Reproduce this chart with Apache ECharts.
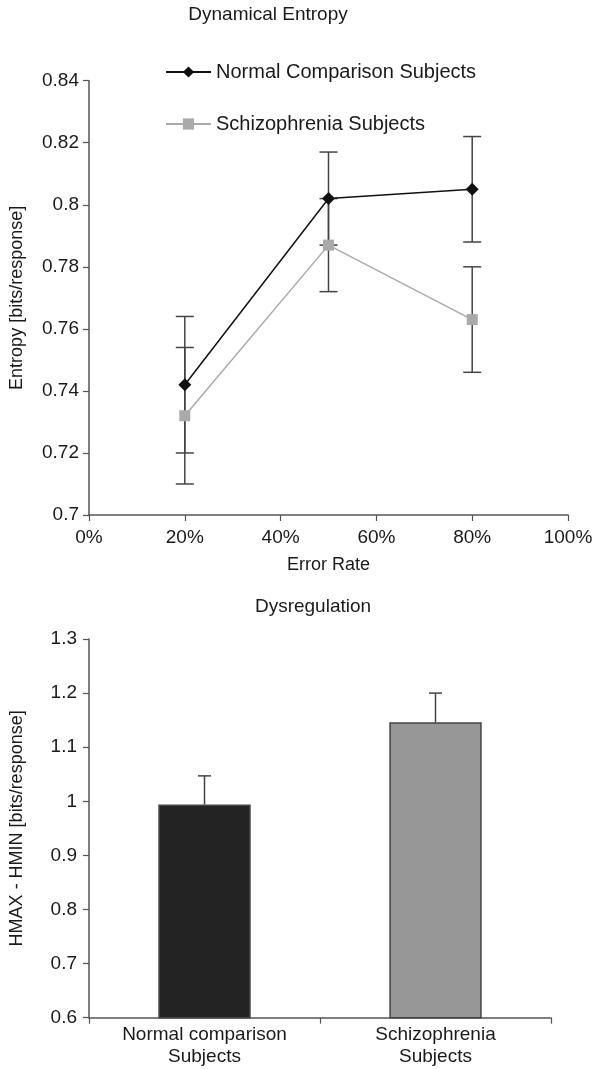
<!DOCTYPE html>
<html>
<head>
<meta charset="utf-8">
<script src="https://cdn.jsdelivr.net/npm/echarts@6/dist/echarts.min.js"></script>
<style>
html,body{margin:0;padding:0;background:#fff;}
#chart{width:600px;height:1069px;}
</style>
</head>
<body>
<div id="chart"></div>
<script>
// ---- Data: Dynamical Entropy (top) ----
var errorRates = [20, 50, 80];                 // Error Rate (%)
var normalEntropy = [0.742, 0.802, 0.805];     // Normal Comparison Subjects
var normalEntropyErr = [0.022, 0.015, 0.017];
var schizoEntropy = [0.732, 0.787, 0.763];     // Schizophrenia Subjects
var schizoEntropyErr = [0.022, 0.015, 0.017];

// ---- Data: Dysregulation (bottom) ----
var groups = ['Normal comparison\nSubjects', 'Schizophrenia\nSubjects'];
var dysregValues = [0.994, 1.146];
var dysregErr = [0.053, 0.054];

var FONT = 'Liberation Sans, Arial, Helvetica, sans-serif';
var TXT = '#1a1a1a';
var AX = '#555555';

function pairs(xs, ys) { return xs.map(function (x, i) { return [x, ys[i]]; }); }
function errData(xs, ys, es) { return xs.map(function (x, i) { return [x, ys[i] - es[i], ys[i] + es[i]]; }); }

function renderErr(half) {
  return function (params, api) {
    var x = api.value(0), lo = api.value(1), hi = api.value(2);
    var pLo = api.coord([x, lo]), pHi = api.coord([x, hi]);
    var st = { stroke: '#444', lineWidth: 1.5 };
    return {
      type: 'group',
      children: [
        { type: 'line', shape: { x1: pLo[0], y1: pLo[1], x2: pHi[0], y2: pHi[1] }, style: st },
        { type: 'line', shape: { x1: pLo[0] - half, y1: pLo[1], x2: pLo[0] + half, y2: pLo[1] }, style: st },
        { type: 'line', shape: { x1: pHi[0] - half, y1: pHi[1], x2: pHi[0] + half, y2: pHi[1] }, style: st }
      ]
    };
  };
}

function renderBarErr(half) {
  return function (params, api) {
    var x = api.value(0), v = api.value(1), hi = api.value(2);
    var pV = api.coord([x, v]), pHi = api.coord([x, hi]);
    var st = { stroke: '#444', lineWidth: 1.5 };
    return {
      type: 'group',
      children: [
        { type: 'line', shape: { x1: pV[0], y1: pV[1], x2: pHi[0], y2: pHi[1] }, style: st },
        { type: 'line', shape: { x1: pHi[0] - half, y1: pHi[1], x2: pHi[0] + half, y2: pHi[1] }, style: st }
      ]
    };
  };
}

var axisCommon = {
  axisLine: { show: true, lineStyle: { color: AX, width: 1.5 } },
  axisTick: { show: true, length: 6, lineStyle: { color: AX, width: 1.2 } },
  splitLine: { show: false },
  axisLabel: { color: TXT, fontFamily: FONT, fontSize: 19 },
  nameTextStyle: { color: TXT, fontFamily: FONT, fontSize: 18 }
};

function merge(a, b) {
  var o = JSON.parse(JSON.stringify(a));
  for (var k in b) {
    if (b[k] && typeof b[k] === 'object' && !Array.isArray(b[k]) && o[k] && typeof o[k] === 'object') {
      for (var kk in b[k]) o[k][kk] = b[k][kk];
    } else o[k] = b[k];
  }
  return o;
}

var chart = echarts.init(document.getElementById('chart'), null, { renderer: 'canvas' });

var option = {
  backgroundColor: '#fff',
  animation: false,
  textStyle: { fontFamily: FONT },
  title: [
    { text: 'Dynamical Entropy', left: 263, top: 0, textAlign: 'center',
      textStyle: { color: TXT, fontFamily: FONT, fontSize: 19, fontWeight: 'normal' } },
    { text: 'Dysregulation', left: 308, top: 592, textAlign: 'center',
      textStyle: { color: TXT, fontFamily: FONT, fontSize: 19, fontWeight: 'normal' } }
  ],
  legend: {
    orient: 'vertical', left: 160, top: 57, itemGap: 32,
    itemWidth: 45, itemHeight: 14,
    textStyle: { color: TXT, fontFamily: FONT, fontSize: 20 },
    data: ['Normal Comparison Subjects', 'Schizophrenia Subjects']
  },
  grid: [
    { left: 86.5, right: 32, top: 80.7, bottom: 554 },
    { left: 86, right: 49, top: 639, bottom: 51.3 }
  ],
  xAxis: [
    merge(axisCommon, {
      type: 'value', gridIndex: 0, min: 0, max: 100, interval: 20,
      name: 'Error Rate', nameLocation: 'middle', nameGap: 41,
      axisLabel: { formatter: '{value}%', margin: 13 }
    }),
    merge(axisCommon, {
      type: 'category', gridIndex: 1, data: groups,
      axisTick: { alignWithLabel: false },
      axisLabel: { margin: 6, lineHeight: 22, interval: 0 }
    })
  ],
  yAxis: [
    merge(axisCommon, {
      type: 'value', gridIndex: 0, min: 0.7, max: 0.84, interval: 0.02,
      name: 'Entropy [bits/response]', nameLocation: 'middle', nameGap: 63,
      axisLabel: { margin: 10 }
    }),
    merge(axisCommon, {
      type: 'value', gridIndex: 1, min: 0.6, max: 1.3, interval: 0.1,
      name: 'HMAX - HMIN [bits/response]', nameLocation: 'middle', nameGap: 63,
      axisLabel: { margin: 12 }
    })
  ],
  series: [
    {
      type: 'custom', xAxisIndex: 0, yAxisIndex: 0, z: 1, silent: true,
      renderItem: renderErr(9), data: errData(errorRates, normalEntropy, normalEntropyErr)
    },
    {
      type: 'custom', xAxisIndex: 0, yAxisIndex: 0, z: 1, silent: true,
      renderItem: renderErr(9), data: errData(errorRates, schizoEntropy, schizoEntropyErr)
    },
    {
      name: 'Normal Comparison Subjects', type: 'line', xAxisIndex: 0, yAxisIndex: 0, z: 3,
      data: pairs(errorRates, normalEntropy),
      symbol: 'diamond', symbolSize: 13,
      lineStyle: { color: '#111', width: 1.5 },
      itemStyle: { color: '#111' }
    },
    {
      name: 'Schizophrenia Subjects', type: 'line', xAxisIndex: 0, yAxisIndex: 0, z: 2,
      data: pairs(errorRates, schizoEntropy),
      symbol: 'rect', symbolSize: 11,
      lineStyle: { color: '#aaaaaa', width: 1.5 },
      itemStyle: { color: '#aaaaaa' }
    },
    {
      type: 'bar', xAxisIndex: 1, yAxisIndex: 1, barWidth: '40%', z: 2,
      data: dysregValues.map(function (v, i) {
        return { value: v, itemStyle: { color: i === 0 ? '#232323' : '#979797', borderColor: '#444', borderWidth: 1.5 } };
      })
    },
    {
      type: 'custom', xAxisIndex: 1, yAxisIndex: 1, z: 3, silent: true,
      renderItem: renderBarErr(6.5),
      data: dysregValues.map(function (v, i) { return [i, v, v + dysregErr[i]]; })
    }
  ]
};

chart.setOption(option);
</script>
</body>
</html>
